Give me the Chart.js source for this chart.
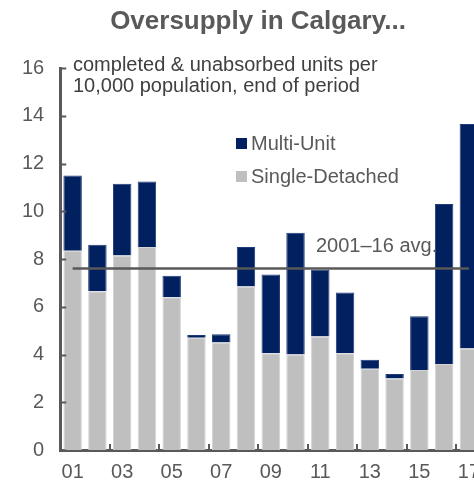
<!DOCTYPE html>
<html>
<head>
<meta charset="utf-8">
<script src="https://cdn.jsdelivr.net/npm/chart.js@4.4.1/dist/chart.umd.min.js"></script>
<style>
  html, body { margin: 0; padding: 0; background: #fff; overflow: hidden; }
  #wrap { width: 490px; height: 494px; }
</style>
</head>
<body>
<div id="wrap"><canvas id="myChart" width="490" height="494"></canvas></div>
<script>
const years = ['01','02','03','04','05','06','07','08','09','10','11','12','13','14','15','16','17'];
const singleDetached = [8.35, 6.65, 8.15, 8.5, 6.4, 4.7, 4.5, 6.85, 4.05, 4.0, 4.75, 4.05, 3.4, 3.0, 3.35, 3.6, 4.25];
const multiUnit = [3.15, 1.95, 3.0, 2.75, 0.9, 0.12, 0.35, 1.65, 3.3, 5.1, 2.8, 2.55, 0.38, 0.18, 2.25, 6.7, 9.4];
const avg2001to16 = 7.6;
const yTicks = [0, 2, 4, 6, 8, 10, 12, 14, 16];

const NAVY = '#002060';
const GRAY = '#bfbfbf';
const TXT = '#595959';
const FONT = '"Liberation Sans", Arial, sans-serif';

// texts, legend and the small inside ticks
const decor = {
    id: 'decor',
    afterDatasetsDraw(chart) {
        const c = chart.ctx;
        const area = chart.chartArea;
        const x = chart.scales.x;
        const y = chart.scales.y;
        c.save();
        c.strokeStyle = TXT;
        c.lineWidth = 2;
        // y ticks pointing in
        yTicks.forEach(v => {
            const py = Math.round(y.getPixelForValue(v)) + 0.5;
            c.beginPath();
            c.moveTo(area.left, py);
            c.lineTo(area.left + 6, py);
            c.stroke();
        });
        // x ticks between every second pair of bars
        for (let i = 1; i < years.length - 1; i += 2) {
            const px = Math.round((x.getPixelForValue(i) + x.getPixelForValue(i + 1)) / 2);
            c.beginPath();
            c.moveTo(px, area.bottom);
            c.lineTo(px, area.bottom - 6);
            c.stroke();
        }

        c.fillStyle = TXT;
        c.textBaseline = 'middle';
        c.textAlign = 'center';
        c.font = 'bold 26px ' + FONT;
        c.fillText('Oversupply in Calgary...', 258, 22);

        c.textAlign = 'left';
        c.font = '20px ' + FONT;
        c.fillStyle = '#404040';
        c.fillText('completed & unabsorbed units per', 73, 65);
        c.fillText('10,000 population, end of period', 73, 86);

        // legend
        c.fillStyle = NAVY;
        c.fillRect(236, 138, 11, 11);
        c.fillStyle = GRAY;
        c.fillRect(236, 171, 11, 11);
        c.fillStyle = TXT;
        c.fillText('Multi-Unit', 251, 144);
        c.fillText('Single-Detached', 251, 177);

        c.fillText('2001\u201316 avg.', 316, 246);
        c.restore();
    }
};

const ctx = document.getElementById('myChart').getContext('2d');
const myChart = new Chart(ctx, {
    type: 'bar',
    data: {
        labels: years,
        datasets: [
            {
                type: 'line',
                label: '2001-16 avg.',
                data: years.map(() => avg2001to16),
                borderColor: TXT,
                borderWidth: 2.5,
                pointRadius: 0,
                stack: 'avg',
                order: 0
            },
            {
                label: 'Single-Detached',
                data: singleDetached,
                backgroundColor: GRAY,
                borderColor: '#d4d4d4',
                borderWidth: 1,
                stack: 'units',
                order: 1
            },
            {
                label: 'Multi-Unit',
                data: multiUnit,
                backgroundColor: NAVY,
                borderColor: '#203a78',
                borderWidth: 1,
                stack: 'units',
                order: 1
            }
        ]
    },
    options: {
        responsive: false,
        animation: false,
        barPercentage: 0.745,
        categoryPercentage: 1,
        layout: { padding: { left: 6, right: 0, top: 68, bottom: 0 } },
        plugins: {
            legend: { display: false },
            title: { display: false },
            tooltip: { enabled: false }
        },
        scales: {
            x: {
                stacked: true,
                grid: { display: false, drawTicks: false },
                border: { display: true, color: TXT, width: 3 },
                ticks: {
                    color: TXT,
                    font: { size: 20, family: FONT },
                    padding: 10,
                    autoSkip: false,
                    maxRotation: 0,
                    callback: function (v, i) { return i % 2 === 0 ? years[i] : ''; }
                }
            },
            y: {
                stacked: true,
                min: 0,
                max: 16,
                grid: { display: false, drawTicks: false },
                border: { display: true, color: TXT, width: 3 },
                ticks: {
                    stepSize: 2,
                    color: TXT,
                    font: { size: 20, family: FONT },
                    padding: 16
                }
            }
        }
    },
    plugins: [decor]
});
</script>
</body>
</html>
